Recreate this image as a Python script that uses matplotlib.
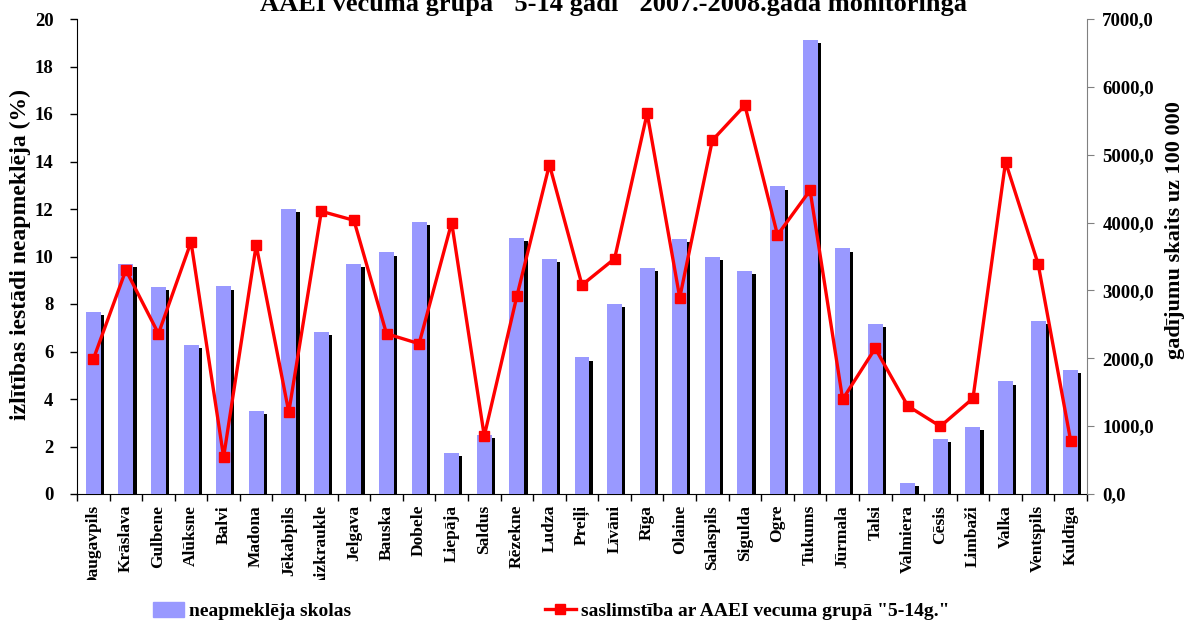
import numpy as np
import matplotlib
matplotlib.use("Agg")
import matplotlib.pyplot as plt
import matplotlib.transforms as mtransforms
from matplotlib.lines import Line2D
from matplotlib.patches import Patch

# Data
towns = ["Daugavpils", "Krāslava", "Gulbene", "Alūksne", "Balvi", "Madona",
         "Jēkabpils", "Aizkraukle", "Jelgava", "Bauska", "Dobele", "Liepāja",
         "Saldus", "Rēzekne", "Ludza", "Preiļi", "Līvāni", "Rīga", "Olaine",
         "Salaspils", "Sigulda", "Ogre", "Tukums", "Jūrmala", "Talsi",
         "Valmiera", "Cēsis", "Limbaži", "Valka", "Ventspils", "Kuldīga"]

absent_pct = [7.68, 9.67, 8.70, 6.26, 8.74, 3.51, 12.0, 6.81, 9.70, 10.17,
              11.44, 1.74, 2.48, 10.79, 9.89, 5.75, 8.01, 9.52, 10.74, 9.98,
              9.39, 12.95, 19.13, 10.34, 7.17, 0.46, 2.33, 2.82, 4.74, 7.30,
              5.22]

incidence = [1985, 3301, 2363, 3714, 545, 3669, 1208, 4166, 4033, 2362,
             2215, 3999, 855, 2913, 4853, 3080, 3468, 5610, 2893, 5212,
             5728, 3817, 4475, 1395, 2147, 1297, 997, 1410, 4893, 3390, 781]

left_ticks = [0, 2, 4, 6, 8, 10, 12, 14, 16, 18, 20]
right_ticks = [0, 1000, 2000, 3000, 4000, 5000, 6000, 7000]
right_labels = ["0,0", "1000,0", "2000,0", "3000,0", "4000,0", "5000,0",
                "6000,0", "7000,0"]

title = 'AAEI vecuma grupā "5-14 gadi" 2007.-2008.gada monitoringā'
bar_color = "#9999FF"

plt.rcParams['font.family'] = ['Liberation Serif', 'DejaVu Serif']
plt.rcParams['font.weight'] = 'bold'

W, H = 1192, 621
fig = plt.figure(figsize=(W / 100, H / 100), dpi=100)
ax = fig.add_axes([77 / W, (H - 494) / H, (1087 - 77) / W, (494 - 19) / H])

x = np.arange(len(towns))
bw = 0.46
# shadow bars then the blue bars
ax.bar(x + 0.1, np.array(absent_pct) - 0.13, width=bw, color="black", zorder=2)
ax.bar(x, absent_pct, width=bw, color=bar_color, zorder=3)

ax.set_xlim(-0.5, len(towns) - 0.5)
ax.set_ylim(0, 20)
ax.set_yticks(left_ticks)
ax.set_yticklabels([str(t) for t in left_ticks], fontsize=13.5, fontweight='bold')
ax.set_xticks(np.arange(len(towns) + 1) - 0.5)
ax.set_xticklabels([])
ax.tick_params(axis='x', length=5, direction='out', width=1)
ax.tick_params(axis='y', length=5, direction='out', width=1, pad=12)
ax.spines['top'].set_visible(False)
ax.spines['right'].set_visible(False)
ax.set_ylabel("izlītības iestādi neapmeklēja (%)", fontsize=17, fontweight='bold')
ax.yaxis.set_label_coords(-0.046, 0.505)

ax2 = ax.twinx()
ax2.plot(x, incidence, color="red", lw=2.4, marker="s", markersize=7.5,
         zorder=5)
ax2.set_ylim(0, 7000)
ax2.set_yticks(right_ticks)
ax2.set_yticklabels(right_labels, fontsize=13.5, fontweight='bold')
ax2.tick_params(axis='y', length=5, direction='out', color='#808080', pad=6)
ax2.spines['right'].set_color('#808080')
for s in ['top', 'left', 'bottom']:
    ax2.spines[s].set_visible(False)
ax2.set_ylabel("gadījumu skaits uz 100 000", fontsize=16, fontweight='bold')
ax2.yaxis.set_label_coords(1.077, 0.556)

# category labels, clipped at the bottom like the original
tr = mtransforms.blended_transform_factory(ax.transData, fig.transFigure)
clip = mtransforms.TransformedBbox(
    mtransforms.Bbox([[0, (H - 580) / H], [1, (H - 498) / H]]), fig.transFigure)
for i, name in enumerate(towns):
    t = fig.text(i, (H - 505) / H, name, transform=tr, rotation=90,
                 ha='center', va='top', fontsize=12.5, fontweight='bold')
    t.set_clip_box(clip)
    t.set_clip_on(True)

fig.text(613 / W, 1 - 11 / H, title, ha='center', va='baseline',
         fontsize=19, fontweight='bold')

fig.legend(handles=[Patch(color=bar_color)], labels=["neapmeklēja skolas"],
           loc='center left', bbox_to_anchor=(135 / W, 1 - 611 / H),
           frameon=False, fontsize=14, handlelength=1.6, handleheight=0.8,
           handletextpad=0.3)
fig.legend(handles=[Line2D([], [], color='red', lw=2.4, marker='s', markersize=7.5)],
           labels=['saslimstība ar AAEI vecuma grupā "5-14g."'],
           loc='center left', bbox_to_anchor=(527 / W, 1 - 611 / H),
           frameon=False, fontsize=14, handlelength=1.6, handletextpad=0.3)

fig.savefig("out.png", dpi=100)
